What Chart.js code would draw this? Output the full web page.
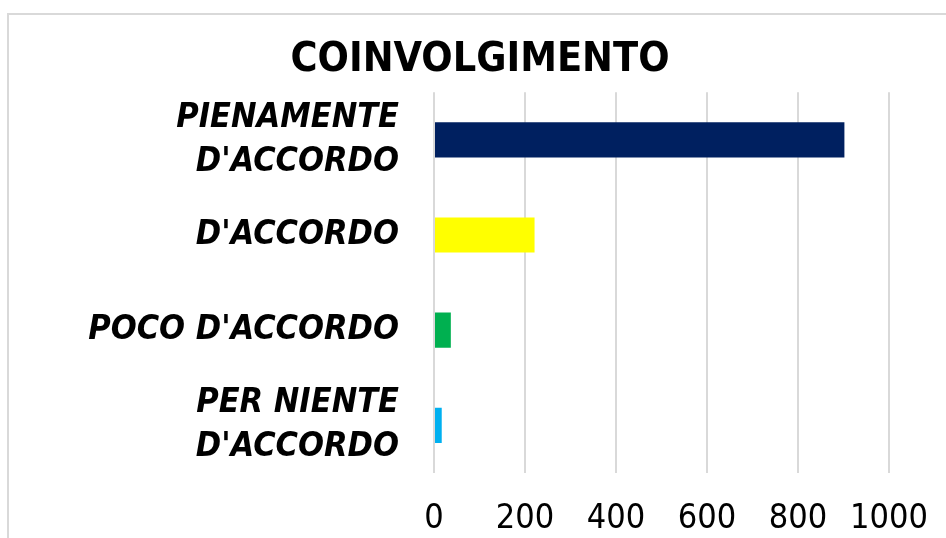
<!DOCTYPE html>
<html>
    <head>
        <meta charset="UTF-8">
        <title>Coinvolgimento</title>
        <script src="https://cdn.jsdelivr.net/npm/chart.js"></script>
        <style>
            body { margin: 0; background: #fff; overflow: hidden; }
            #frame { position: absolute; left: 7px; top: 13px; width: 960px; height: 560px;
                     border-left: 2px solid #d9d9d9; border-top: 2px solid #d9d9d9; }
            #container { position: absolute; left: 0; top: 0; width: 946px; height: 538px; }
        </style>
        <script type="text/javascript">
            var categories = [["PIENAMENTE", "D'ACCORDO"], "D'ACCORDO", "POCO D'ACCORDO", ["PER NIENTE", "D'ACCORDO"]];
            var values = [902, 221, 37, 17];
            var barColors = ["#002060", "#FFFF00", "#00B050", "#00B0F0"];
            var tickValues = [0, 200, 400, 600, 800, 1000];

            var fontFamily = "'Liberation Sans Narrow', 'DejaVu Sans Condensed', sans-serif";

            window.onload = function () {
                var ctx = document.getElementById('chartCanvas').getContext('2d');
                window.chart = new Chart(ctx, {
                    type: 'bar',
                    data: {
                        labels: categories,
                        datasets: [{
                            data: values,
                            backgroundColor: barColors,
                            categoryPercentage: 1,
                            barPercentage: 0.37
                        }]
                    },
                    options: {
                        indexAxis: 'y',
                        responsive: false,
                        animation: false,
                        layout: { padding: { left: 71, right: 57, top: 0, bottom: 0 } },
                        plugins: {
                            legend: { display: false },
                            tooltip: { enabled: false },
                            title: {
                                display: true,
                                text: 'COINVOLGIMENTO',
                                color: '#000',
                                font: { family: fontFamily, size: 41, weight: 'bold', lineHeight: 1.2 },
                                padding: { top: 36, bottom: 7 }
                            }
                        },
                        scales: {
                            x: {
                                min: 0,
                                max: 1000,
                                afterBuildTicks: function (s) {
                                    s.ticks = tickValues.map(function (v) { return { value: v }; });
                                },
                                grid: { color: '#d9d9d9', lineWidth: 2, drawTicks: false },
                                border: { display: false },
                                ticks: {
                                    color: '#000',
                                    padding: 26,
                                    autoSkip: false,
                                    maxRotation: 0,
                                    font: { family: fontFamily, size: 34 },
                                    callback: function (v) { return String(v); }
                                },
                                afterFit: function (s) {
                                    s.height = 65;
                                    s.paddingLeft = 0;
                                    s.paddingRight = 0;
                                }
                            },
                            y: {
                                grid: { display: false },
                                border: { display: false },
                                ticks: {
                                    color: '#000',
                                    padding: 27,
                                    font: { family: fontFamily, size: 34, weight: 'bold', style: 'italic', lineHeight: 1.3 }
                                },
                                afterFit: function (s) {
                                    s.width = 363;
                                    s.paddingTop = 0;
                                    s.paddingBottom = 0;
                                }
                            }
                        }
                    }
                });
            };
        </script>
    </head>
    <body>
        <div id="frame"></div>
        <div id="container">
            <canvas id="chartCanvas" width="946" height="538"></canvas>
        </div>
    </body>
</html>
